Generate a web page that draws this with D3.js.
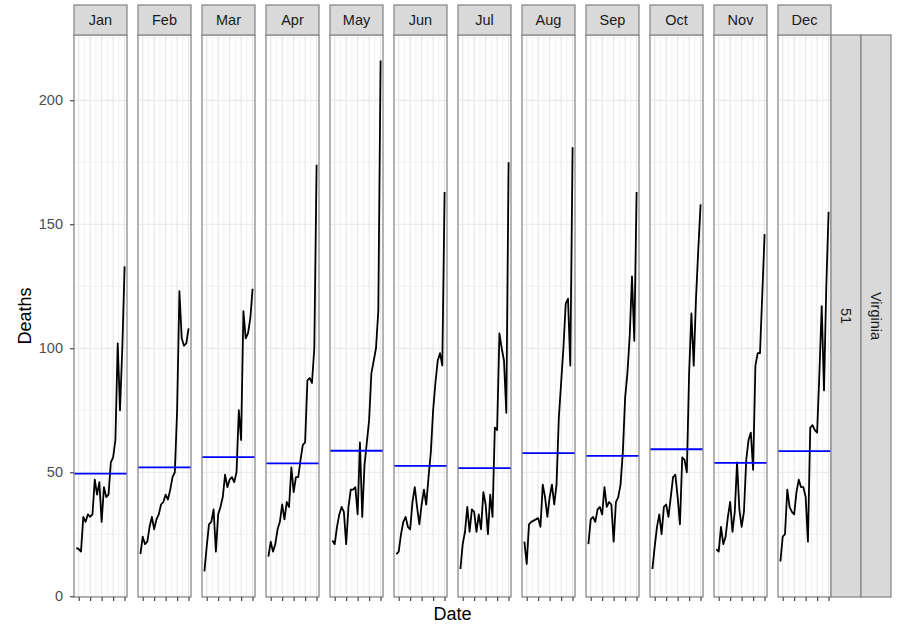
<!DOCTYPE html>
<html>
<head>
<meta charset="utf-8">
<script src="https://cdn.jsdelivr.net/npm/d3@7"></script>
<style>
  body { margin: 0; background: #ffffff; }
  svg { display: block; font-family: "Liberation Sans", Arial, Helvetica, sans-serif; }
</style>
</head>
<body>
<svg id="chart" width="897" height="625"></svg>
<script>
// Monthly deaths, Virginia (state code 51), one series per calendar month, 1999-2020
const months = ["Jan", "Feb", "Mar", "Apr", "May", "Jun", "Jul", "Aug", "Sep", "Oct", "Nov", "Dec"];
const years = [1999, 2000, 2001, 2002, 2003, 2004, 2005, 2006, 2007, 2008, 2009,
               2010, 2011, 2012, 2013, 2014, 2015, 2016, 2017, 2018, 2019, 2020];

const deathsJan = [19.5, 19, 18, 32, 30, 33, 32, 33, 47, 41, 46, 30, 44, 40, 41, 54, 56, 63, 102, 75, 100, 133];
const deathsFeb = [17, 24, 21, 22, 28, 32, 27, 31, 33, 37, 38, 41, 39, 43, 48, 50, 75, 123, 104, 101, 102, 108];
const deathsMar = [10, 20, 29, 30, 35, 18, 33, 36, 40, 49, 44, 47, 48, 46, 50, 75, 63, 115, 104, 106, 112, 124];
const deathsApr = [16, 22, 18, 21, 27, 30, 37, 31, 38, 36, 52, 42, 48, 48, 55, 61, 62, 87, 88, 86, 100, 174];
const deathsMay = [22.5, 21, 28, 33, 36, 34, 21, 36, 43, 43, 44, 33, 62, 32, 53, 62, 71, 90, 95, 100, 115, 216];
const deathsJun = [17, 18, 25, 30, 32, 28, 27, 38, 44, 36, 29, 37, 43, 37, 48, 58, 75, 86, 95, 98, 93, 163];
const deathsJul = [11, 21, 26, 36, 26, 35, 34, 26, 33, 27, 42, 37, 25, 41, 32, 68, 67, 106, 100, 95, 74, 175];
const deathsAug = [22, 13, 29, 30, 30.5, 31, 31.5, 28, 45, 40, 32, 40, 45, 37, 45, 72, 86, 100, 118, 120, 93, 181];
const deathsSep = [21, 31, 32, 30, 35, 36, 33, 44, 36, 38, 37, 22, 38, 40, 45, 58, 80, 90, 105, 129, 103, 163];
const deathsOct = [11, 20, 28, 33, 25, 36, 37, 32, 40, 48, 49, 40, 29, 56, 55, 50, 90, 114, 93, 120, 140, 158];
const deathsNov = [19, 18, 28, 21, 24, 32, 38, 26, 34, 54, 35, 28, 34, 55, 63, 66, 51, 93, 98, 98, 122, 146];
const deathsDec = [14, 24, 25, 43, 36, 34, 33, 42, 47, 44, 44, 40, 22, 68, 69, 67, 66, 90, 117, 83, 125, 155];

const stateCode = "51";
const stateName = "Virginia";

const yTicks = [0, 50, 100, 150, 200];
const yMinorTicks = [25, 75, 125, 175, 225];
const xTicks = [2000, 2005, 2010, 2015, 2020];
const xMinorTicks = [2002.5, 2007.5, 2012.5, 2017.5];

const series = months.map((m, i) => ({
  month: m,
  values: [deathsJan, deathsFeb, deathsMar, deathsApr, deathsMay, deathsJun,
           deathsJul, deathsAug, deathsSep, deathsOct, deathsNov, deathsDec][i]
}));

// ---- layout ----
const W = 897, H = 625;
const panelsLeft = 74, panelsRight = 831;
const panelTop = 35, panelBottom = 597;
const stripTop = 5;
const sideStripW = 30;

const borderCol = "#8a8a8a";
const gridMajor = "#e6e6e6";
const gridMinor = "#f1f1f1";

const svg = d3.select("#chart");
svg.append("rect").attr("width", W).attr("height", H).attr("fill", "#ffffff");

// padded extent, 5% on each side
function padded(ext) {
  const r = ext[1] - ext[0];
  return [ext[0] - 0.05 * r, ext[1] + 0.05 * r];
}

const panelBand = d3.scaleBand()
  .domain(months)
  .range([panelsLeft, panelsRight])
  .paddingInner(11 / 64)
  .paddingOuter(0);
const bw = panelBand.bandwidth();

const x = d3.scaleLinear().domain(padded(d3.extent(years))).range([0, bw]);
const allValues = series.flatMap(s => s.values);
const y = d3.scaleLinear().domain(padded(d3.extent(allValues))).range([panelBottom, panelTop]);

const line = d3.line()
  .x((d, i) => x(years[i]))
  .y(d => y(d));

series.forEach(s => {
  const g = svg.append("g").attr("transform", `translate(${panelBand(s.month)},0)`);

  // panel background
  g.append("rect")
    .attr("x", 0).attr("y", panelTop)
    .attr("width", bw).attr("height", panelBottom - panelTop)
    .attr("fill", "#ffffff");

  // minor grid
  g.selectAll(".vminor").data(xMinorTicks).join("line")
    .attr("x1", d => x(d)).attr("x2", d => x(d))
    .attr("y1", panelTop).attr("y2", panelBottom)
    .attr("stroke", gridMinor).attr("stroke-width", 1);
  g.selectAll(".hminor").data(yMinorTicks.filter(v => v <= y.domain()[1])).join("line")
    .attr("x1", 0).attr("x2", bw)
    .attr("y1", d => y(d)).attr("y2", d => y(d))
    .attr("stroke", gridMinor).attr("stroke-width", 1);

  // major grid
  g.append("g").selectAll("line").data(xTicks).join("line")
    .attr("x1", d => x(d)).attr("x2", d => x(d))
    .attr("y1", panelTop).attr("y2", panelBottom)
    .attr("stroke", gridMajor).attr("stroke-width", 1.1);
  g.append("g").selectAll("line").data(yTicks).join("line")
    .attr("x1", 0).attr("x2", bw)
    .attr("y1", d => y(d)).attr("y2", d => y(d))
    .attr("stroke", gridMajor).attr("stroke-width", 1.1);

  // series line
  g.append("path")
    .datum(s.values)
    .attr("d", line)
    .attr("fill", "none")
    .attr("stroke", "#000000")
    .attr("stroke-width", 1.8)
    .attr("stroke-linejoin", "round");

  // mean line
  const m = d3.mean(s.values);
  g.append("line")
    .attr("x1", 0).attr("x2", bw)
    .attr("y1", y(m)).attr("y2", y(m))
    .attr("stroke", "#0000ff")
    .attr("stroke-width", 1.8);

  // panel border
  g.append("rect")
    .attr("x", 0).attr("y", panelTop)
    .attr("width", bw).attr("height", panelBottom - panelTop)
    .attr("fill", "none").attr("stroke", borderCol).attr("stroke-width", 1.3);

  // top strip
  g.append("rect")
    .attr("x", 0).attr("y", stripTop)
    .attr("width", bw).attr("height", panelTop - stripTop)
    .attr("fill", "#d9d9d9").attr("stroke", borderCol).attr("stroke-width", 1.3);
  g.append("text")
    .attr("x", bw / 2).attr("y", (stripTop + panelTop) / 2)
    .attr("dy", "0.35em")
    .attr("text-anchor", "middle")
    .attr("font-size", 14.5)
    .attr("fill", "#1a1a1a")
    .text(s.month);

  // x axis ticks (no labels)
  const xa = g.append("g")
    .attr("transform", `translate(0,${panelBottom})`)
    .call(d3.axisBottom(x).tickValues(xTicks).tickFormat("").tickSize(4).tickSizeOuter(0));
  xa.select(".domain").remove();
  xa.selectAll(".tick line").attr("stroke", "#444").attr("stroke-width", 1.2);
});

// y axis on the first panel
const ya = svg.append("g")
  .attr("transform", `translate(${panelsLeft},0)`)
  .call(d3.axisLeft(y).tickValues(yTicks).tickSize(4).tickPadding(7));
ya.select(".domain").remove();
ya.selectAll(".tick line").attr("stroke", "#444").attr("stroke-width", 1.2);
ya.selectAll(".tick text")
  .attr("font-size", 14.5)
  .attr("font-family", "Liberation Sans, Arial, Helvetica, sans-serif")
  .attr("fill", "#4d4d4d");

// side strips (row facets)
[stateCode, stateName].forEach((lab, i) => {
  const sx = panelsRight + i * sideStripW;
  svg.append("rect")
    .attr("x", sx).attr("y", panelTop)
    .attr("width", sideStripW).attr("height", panelBottom - panelTop)
    .attr("fill", "#d9d9d9").attr("stroke", borderCol).attr("stroke-width", 1.3);
  const cx = sx + sideStripW / 2, cy = (panelTop + panelBottom) / 2;
  svg.append("text")
    .attr("transform", `translate(${cx},${cy}) rotate(90)`)
    .attr("dy", "0.35em")
    .attr("text-anchor", "middle")
    .attr("font-size", 14.5)
    .attr("fill", "#1a1a1a")
    .text(lab);
});

// axis titles
svg.append("text")
  .attr("x", (panelsLeft + panelsRight) / 2)
  .attr("y", 620)
  .attr("text-anchor", "middle")
  .attr("font-size", 18)
  .attr("fill", "#000")
  .text("Date");

svg.append("text")
  .attr("transform", `translate(31,${(panelTop + panelBottom) / 2}) rotate(-90)`)
  .attr("text-anchor", "middle")
  .attr("font-size", 18)
  .attr("fill", "#000")
  .text("Deaths");
</script>
</body>
</html>
